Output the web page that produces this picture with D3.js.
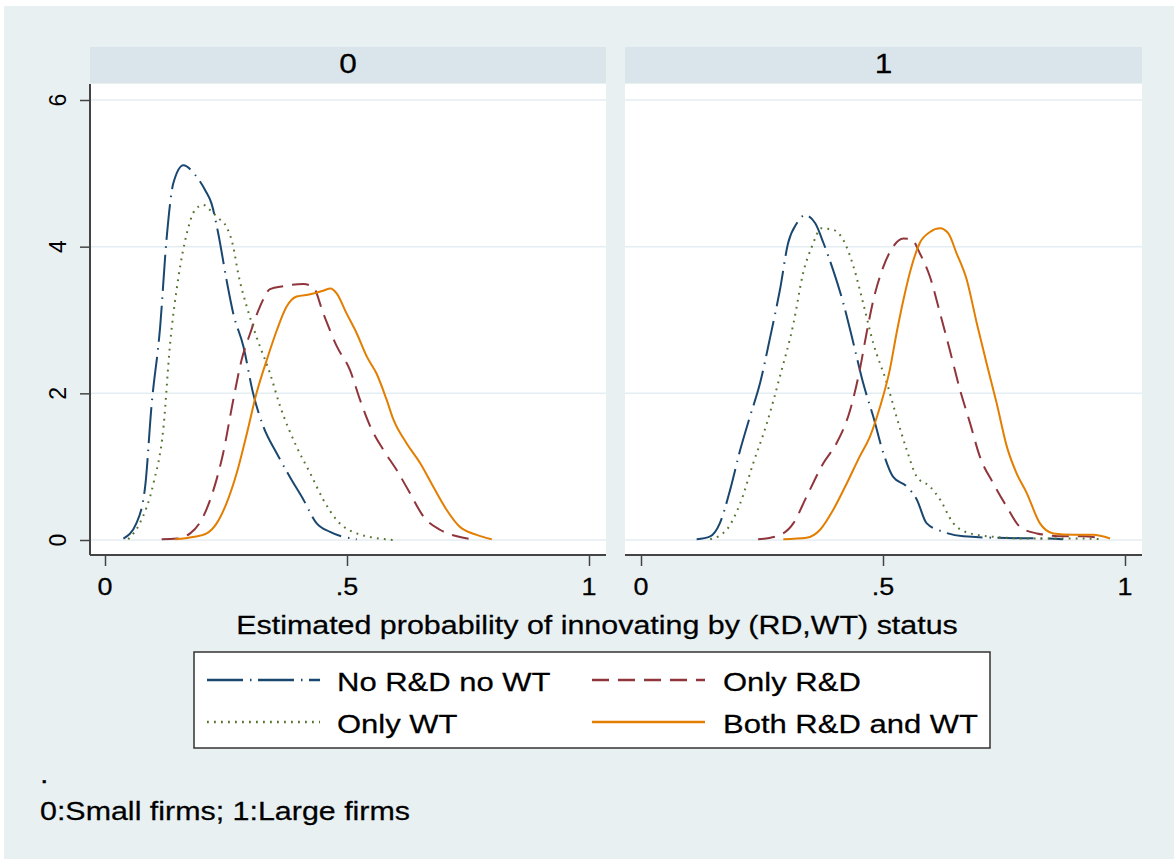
<!DOCTYPE html>
<html>
<head>
<meta charset="utf-8">
<script src="https://cdn.jsdelivr.net/npm/d3@7.9.0/dist/d3.min.js"></script>
<style>
  body { margin: 0; background: #fff; }
  svg { display: block; font-family: "Liberation Sans", Arial, sans-serif; }
</style>
</head>
<body>
<svg id="chart" width="1174" height="859"></svg>
<script>
// panel labels (by firm size) and tick labels
const panels = ['0', '1'];
const xTicks = [0, 0.5, 1];
const xTickLabels = ['0', '.5', '1'];
const yTicks = [0, 2, 4, 6];
const seriesNames = ['No R&D no WT', 'Only R&D', 'Only WT', 'Both R&D and WT'];
const xTitle = 'Estimated probability of innovating by (RD,WT) status';
const note = '0:Small firms; 1:Large firms';

// kernel density curves, [probability, density]
const small_none = [[0.038,0.02],[0.065,0.23],[0.083,0.73],[0.096,1.82],[0.114,2.91],[0.127,4.09],[0.141,4.86],[0.162,5.11],[0.186,4.98],[0.207,4.77],[0.220,4.59],[0.234,4.18],[0.251,3.55],[0.265,3.09],[0.286,2.64],[0.306,2.0],[0.327,1.55],[0.355,1.18],[0.382,0.86],[0.410,0.55],[0.437,0.23],[0.465,0.11],[0.52,0.01]];
const small_wt = [[0.048,0.01],[0.072,0.23],[0.100,0.77],[0.121,1.55],[0.134,2.64],[0.151,3.55],[0.169,4.18],[0.186,4.5],[0.203,4.57],[0.220,4.48],[0.234,4.39],[0.251,4.27],[0.265,4.0],[0.275,3.64],[0.293,3.18],[0.313,2.77],[0.341,2.27],[0.362,1.82],[0.396,1.27],[0.424,0.91],[0.451,0.55],[0.479,0.27],[0.52,0.09],[0.596,0.0]];
const small_rd = [[0.117,0.01],[0.148,0.02],[0.176,0.09],[0.203,0.32],[0.224,0.68],[0.244,1.18],[0.265,1.91],[0.282,2.45],[0.300,2.82],[0.320,3.18],[0.341,3.42],[0.368,3.46],[0.410,3.49],[0.430,3.45],[0.451,3.09],[0.479,2.64],[0.506,2.32],[0.527,1.91],[0.548,1.55],[0.575,1.23],[0.603,0.95],[0.630,0.64],[0.658,0.32],[0.692,0.14],[0.727,0.05],[0.761,0.01]];
const small_both = [[0.145,0.01],[0.182,0.04],[0.210,0.09],[0.231,0.23],[0.251,0.5],[0.272,0.91],[0.293,1.45],[0.313,2.0],[0.334,2.45],[0.355,2.86],[0.375,3.18],[0.396,3.32],[0.424,3.35],[0.451,3.40],[0.466,3.43],[0.479,3.36],[0.499,3.09],[0.52,2.82],[0.541,2.5],[0.561,2.27],[0.582,1.91],[0.596,1.64],[0.623,1.32],[0.651,1.05],[0.678,0.73],[0.706,0.41],[0.733,0.18],[0.768,0.07],[0.799,0.01]];

const large_none = [[0.115,0.01],[0.143,0.05],[0.163,0.23],[0.184,0.68],[0.205,1.23],[0.225,1.68],[0.246,2.14],[0.267,2.77],[0.287,3.41],[0.304,4.05],[0.322,4.32],[0.339,4.43],[0.360,4.32],[0.377,4.05],[0.397,3.68],[0.418,3.23],[0.439,2.68],[0.459,2.14],[0.480,1.68],[0.501,1.18],[0.521,0.86],[0.549,0.73],[0.570,0.55],[0.590,0.23],[0.625,0.11],[0.666,0.05],[0.735,0.03],[0.838,0.02],[0.872,0.01]];
const large_wt = [[0.143,0.01],[0.177,0.14],[0.205,0.5],[0.232,1.05],[0.260,1.59],[0.287,2.23],[0.315,2.95],[0.335,3.64],[0.353,4.0],[0.373,4.25],[0.397,4.23],[0.418,4.09],[0.439,3.73],[0.459,3.23],[0.480,2.68],[0.508,2.14],[0.528,1.68],[0.549,1.23],[0.570,0.86],[0.597,0.73],[0.618,0.55],[0.645,0.23],[0.680,0.09],[0.735,0.04],[0.804,0.02],[0.900,0.02],[0.955,0.01]];
const large_rd = [[0.242,0.01],[0.280,0.05],[0.315,0.23],[0.342,0.59],[0.377,1.05],[0.404,1.32],[0.432,1.77],[0.452,2.32],[0.466,2.82],[0.480,3.27],[0.501,3.73],[0.521,4.0],[0.542,4.11],[0.559,4.10],[0.576,3.91],[0.597,3.59],[0.618,3.09],[0.638,2.59],[0.659,2.05],[0.680,1.59],[0.700,1.14],[0.728,0.77],[0.756,0.45],[0.783,0.18],[0.818,0.09],[0.873,0.05],[0.914,0.05],[0.955,0.02]];
const large_both = [[0.294,0.01],[0.342,0.03],[0.370,0.14],[0.397,0.41],[0.425,0.77],[0.452,1.14],[0.473,1.41],[0.494,1.82],[0.514,2.32],[0.528,2.82],[0.542,3.27],[0.559,3.73],[0.576,4.05],[0.597,4.20],[0.618,4.25],[0.635,4.18],[0.652,3.91],[0.673,3.55],[0.694,2.95],[0.714,2.41],[0.735,1.86],[0.756,1.27],[0.776,0.91],[0.797,0.64],[0.824,0.23],[0.852,0.09],[0.893,0.07],[0.934,0.07],[0.969,0.02]];

const panelData = [
  [small_none, small_rd, small_wt, small_both],
  [large_none, large_rd, large_wt, large_both]
];

// stata s2color look
const colors = ['#1a476f', '#90353b', '#55752f', '#e37e00'];
const dashes = ['36,7,1.5,6.5', '17,9', '1.8,5.2', null];
const stretch = 1.17; // text in the picture is a bit wide

const svg = d3.select('#chart');

function label(g, x, y, str, size, anchor) {
  return g.append('text')
    .attr('transform', `translate(${x},${y}) scale(${stretch},1)`)
    .attr('text-anchor', anchor || 'middle')
    .attr('font-size', size)
    .attr('fill', '#000')
    .attr('stroke', '#000')
    .attr('stroke-width', 0.25)
    .text(str);
}

// outer background
svg.append('rect').attr('x', 4).attr('y', 6).attr('width', 1170).attr('height', 853).attr('fill', '#e8f0f2');

const panelBox = [
  { x0: 90, x1: 606 },
  { x0: 625, x1: 1142 }
];
const plotTop = 84, plotBottom = 555;
const y = d3.scaleLinear().domain([0, 6]).range([540, 100]);

panels.forEach((p, i) => {
  const box = panelBox[i];
  const x = d3.scaleLinear().domain([0, 1]).range(i === 0 ? [105, 589] : [641, 1125]);
  const g = svg.append('g');

  // header strip
  g.append('rect').attr('x', box.x0).attr('y', 47).attr('width', box.x1 - box.x0).attr('height', 36).attr('fill', '#d9e5ea');
  label(g, (box.x0 + box.x1) / 2, 73, p, 27);

  // plot region
  g.append('rect').attr('x', box.x0).attr('y', plotTop).attr('width', box.x1 - box.x0).attr('height', plotBottom - plotTop).attr('fill', '#fff');

  // grid
  g.selectAll('.grid').data(yTicks).join('line')
    .attr('x1', box.x0).attr('x2', box.x1)
    .attr('y1', d => y(d)).attr('y2', d => y(d))
    .attr('stroke', '#e4edf1').attr('stroke-width', 1.5);

  // curves
  const line = d3.line().x(d => x(d[0])).y(d => y(d[1])).curve(d3.curveMonotoneX);
  panelData[i].forEach((s, k) => {
    g.append('path').attr('d', line(s))
      .attr('fill', 'none')
      .attr('stroke', colors[k])
      .attr('stroke-width', 2)
      .attr('stroke-dasharray', dashes[k]);
  });

  // x axis
  const xa = g.append('g').attr('transform', `translate(0,${plotBottom})`)
    .call(d3.axisBottom(x).tickValues(xTicks).tickFormat('').tickSize(11).tickSizeOuter(0));
  xa.select('.domain').remove();
  xa.selectAll('line').attr('stroke', '#444').attr('stroke-width', 1.5);
  g.append('line').attr('x1', box.x0).attr('x2', box.x1).attr('y1', plotBottom).attr('y2', plotBottom)
    .attr('stroke', '#444').attr('stroke-width', 2);
  xTicks.forEach((t, j) => label(g, x(t), 595, xTickLabels[j], 23));

  // y axis only on the first panel
  if (i === 0) {
    const ya = g.append('g').attr('transform', `translate(${box.x0},0)`)
      .call(d3.axisLeft(y).tickValues(yTicks).tickFormat('').tickSize(10).tickSizeOuter(0));
    ya.select('.domain').remove();
    ya.selectAll('line').attr('stroke', '#444').attr('stroke-width', 1.5);
    g.append('line').attr('x1', box.x0).attr('x2', box.x0).attr('y1', plotTop).attr('y2', plotBottom)
      .attr('stroke', '#444').attr('stroke-width', 2);
    yTicks.forEach(t => {
      g.append('text')
        .attr('transform', `translate(66,${y(t)}) rotate(-90)`)
        .attr('text-anchor', 'middle')
        .attr('font-size', 23)
        .attr('fill', '#000')
        .text(t);
    });
  }
});

// axis title
label(svg, 597, 634, xTitle, 26);

// legend
const leg = svg.append('g');
leg.append('rect').attr('x', 194).attr('y', 652).attr('width', 796).attr('height', 96)
  .attr('fill', '#fff').attr('stroke', '#333').attr('stroke-width', 1.5);
const legPos = [
  { lx: 207, tx: 337, ly: 680, ty: 691 },
  { lx: 592, tx: 723, ly: 680, ty: 691 },
  { lx: 207, tx: 337, ly: 722, ty: 733 },
  { lx: 592, tx: 723, ly: 722, ty: 733 }
];
seriesNames.forEach((name, k) => {
  const p = legPos[k];
  leg.append('line').attr('x1', p.lx).attr('x2', p.lx + 113).attr('y1', p.ly).attr('y2', p.ly)
    .attr('stroke', colors[k]).attr('stroke-width', 2.5).attr('stroke-dasharray', dashes[k]);
  label(leg, p.tx, p.ty, name, 26.5, 'start');
});

// note
label(svg, 40, 783, '.', 26, 'start');
label(svg, 40, 820, note, 26, 'start');
</script>
</body>
</html>
